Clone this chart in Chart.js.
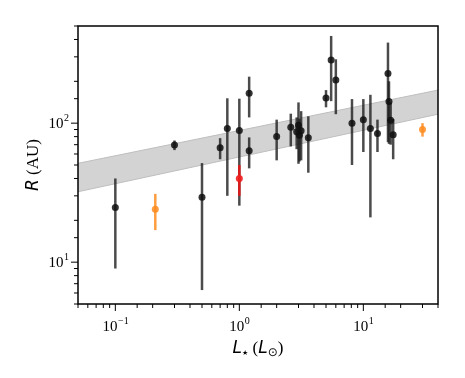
<!DOCTYPE html>
<html>
<head>
<meta charset="utf-8">
<script src="https://cdn.jsdelivr.net/npm/chart.js@4.4.0/dist/chart.umd.min.js"></script>
<style>
  html, body { margin: 0; padding: 0; background: #fff; }
  #wrap { width: 465px; height: 378px; }
</style>
</head>
<body>
<div id="wrap"><canvas id="c"></canvas></div>
<script>
// luminosity (L_sun) and radius (AU) with error ranges
const lum   = [0.1, 0.3, 0.5, 0.7, 0.8, 1.0, 1.2, 1.2, 2.0, 2.6, 2.9, 3.0, 3.05, 3.15, 3.6,
               5.0, 5.5, 6.0, 8.1, 10, 11.4, 13, 15.8, 16.1, 16.6, 17.4];
const rad   = [24.7, 69.5, 29.3, 66.5, 91.6, 88.7, 164, 63.2, 80.2, 93.6, 86.7, 96.7, 82, 88.1, 78.5,
               152, 285, 204, 100, 106, 91.6, 84.3, 228, 143, 105, 82.4];
const radLo = [9.0, 64, 6.3, 55, 30, 25.5, 110, 47.3, 54, 68, 65, 51, 53, 54, 44,
               130, 144, 116, 50, 62, 21, 62, 73, 71, 70, 55];
const radHi = [40, 75, 51.6, 78, 151, 150, 216, 79, 106, 117, 110, 141, 107, 122, 112,
               173, 424, 288, 149, 149, 160, 106, 380, 200, 141, 107];

const lumOrange   = [0.21, 30];
const radOrange   = [24, 90];
const radLoOrange = [17, 80];
const radHiOrange = [31, 100];

const lumRed   = [1.0];
const radRed   = [40];
const radLoRed = [30];
const radHiRed = [50];

// shaded relation band (edges at the axis limits)
const bandLum   = [0.05, 40];
const bandUpper = [51.4, 173];
const bandLower = [32.1, 116];

const xTicksMajor = [0.1, 1, 10];
const xTickLabels = ['10⁻¹', '10⁰', '10¹'];
const yTicksMajor = [10, 100];
const yTickLabels = ['10¹', '10²'];

function pts(xs, ys) {
  return xs.map((x, i) => ({ x: x, y: ys[i] }));
}

function isPow10(v) {
  const l = Math.log10(v);
  return Math.abs(l - Math.round(l)) < 1e-9;
}

const errorBars = {
  id: 'errorBars',
  beforeDatasetDraw(chart, args) {
    const ds = chart.data.datasets[args.index];
    if (!ds.errLo) return;
    const ctx = chart.ctx, x = chart.scales.x, y = chart.scales.y, a = chart.chartArea;
    ctx.save();
    ctx.beginPath();
    ctx.rect(a.left, a.top, a.right - a.left, a.bottom - a.top);
    ctx.clip();
    ctx.strokeStyle = ds.errColor;
    ctx.lineWidth = 2.5;
    ds.data.forEach((p, i) => {
      const px = x.getPixelForValue(p.x);
      ctx.beginPath();
      ctx.moveTo(px, y.getPixelForValue(ds.errLo[i]));
      ctx.lineTo(px, y.getPixelForValue(ds.errHi[i]));
      ctx.stroke();
    });
    ctx.restore();
  }
};

const frame = {
  id: 'frame',
  afterDraw(chart) {
    const ctx = chart.ctx, a = chart.chartArea, x = chart.scales.x, y = chart.scales.y;
    ctx.save();
    ctx.strokeStyle = '#000';
    ctx.lineWidth = 1.5;
    ctx.strokeRect(a.left, a.top, a.right - a.left, a.bottom - a.top);
    ctx.lineWidth = 1;
    x.ticks.forEach(t => {
      const px = x.getPixelForValue(t.value);
      if (px < a.left - 0.5 || px > a.right + 0.5) return;
      ctx.beginPath();
      ctx.moveTo(px, a.bottom);
      ctx.lineTo(px, a.bottom + (isPow10(t.value) ? 7 : 4));
      ctx.stroke();
    });
    y.ticks.forEach(t => {
      const py = y.getPixelForValue(t.value);
      if (py < a.top - 0.5 || py > a.bottom + 0.5) return;
      ctx.beginPath();
      ctx.moveTo(a.left, py);
      ctx.lineTo(a.left - (isPow10(t.value) ? 7 : 4), py);
      ctx.stroke();
    });

    // tick labels with raised exponents
    ctx.fillStyle = '#000';
    const base = '15px "Liberation Serif", "DejaVu Serif", serif';
    const sup = '10px "Liberation Serif", "DejaVu Serif", serif';
    function label(txt) {
      return { mant: '10', exp: txt.slice(2).replace('⁻', '−').replace('⁰', '0').replace('¹', '1').replace('²', '2') };
    }
    xTicksMajor.forEach((v, i) => {
      const l = label(xTickLabels[i]);
      ctx.font = base; const w1 = ctx.measureText(l.mant).width;
      ctx.font = sup; const w2 = ctx.measureText(l.exp).width;
      const px = x.getPixelForValue(v);
      const left = px - (w1 + w2) / 2;
      ctx.textBaseline = 'alphabetic';
      ctx.textAlign = 'left';
      ctx.font = base; ctx.fillText(l.mant, left, a.bottom + 27);
      ctx.font = sup; ctx.fillText(l.exp, left + w1 + 0.5, a.bottom + 20);
    });
    yTicksMajor.forEach((v, i) => {
      const l = label(yTickLabels[i]);
      ctx.font = base; const w1 = ctx.measureText(l.mant).width;
      ctx.font = sup; const w2 = ctx.measureText(l.exp).width;
      const py = y.getPixelForValue(v);
      const right = a.left - 9;
      ctx.textAlign = 'left';
      ctx.textBaseline = 'alphabetic';
      ctx.font = base; ctx.fillText(l.mant, right - w2 - w1 - 0.5, py + 5);
      ctx.font = sup; ctx.fillText(l.exp, right - w2, py - 2);
    });

    // axis titles
    function drawPieces(pieces, cx, by) {
      let w = 0;
      pieces.forEach(p => { ctx.font = p.f; p.w = ctx.measureText(p.t).width; w += p.w; });
      let cur = cx - w / 2;
      pieces.forEach(p => { ctx.font = p.f; ctx.fillText(p.t, cur, by + (p.dy || 0)); cur += p.w; });
    }
    const it = 'italic 17px "DejaVu Sans", sans-serif';
    const sr = '17px "Liberation Serif", "DejaVu Serif", serif';
    ctx.textAlign = 'left';
    ctx.textBaseline = 'alphabetic';
    drawPieces([
      { t: 'L', f: it },
      { t: '★', f: '7px "DejaVu Sans", sans-serif', dy: 2 },
      { t: ' (', f: sr },
      { t: 'L', f: it },
      { t: '⊙', f: '12px "DejaVu Sans", sans-serif', dy: 3 },
      { t: ')', f: sr }
    ], (a.left + a.right) / 2, 353);

    ctx.translate(38, (a.top + a.bottom) / 2);
    ctx.rotate(-Math.PI / 2);
    drawPieces([
      { t: 'R', f: it },
      { t: ' (AU)', f: sr }
    ], 0, 0);
    ctx.restore();
  }
};

const datos = {
  datasets: [
    {
      type: 'line',
      data: pts(bandLum, bandUpper),
      borderColor: '#bfbfbf',
      borderWidth: 1,
      pointRadius: 0,
      fill: false,
      order: 10
    },
    {
      type: 'line',
      data: pts(bandLum, bandLower),
      borderColor: '#bfbfbf',
      borderWidth: 1,
      backgroundColor: '#d3d3d3',
      pointRadius: 0,
      fill: '-1',
      order: 10
    },
    {
      data: pts(lum, rad),
      errLo: radLo,
      errHi: radHi,
      errColor: 'rgba(30,30,30,0.8)',
      backgroundColor: 'rgba(15,15,15,0.85)',
      borderWidth: 0,
      pointRadius: 3.5,
      order: 3
    },
    {
      data: pts(lumOrange, radOrange),
      errLo: radLoOrange,
      errHi: radHiOrange,
      errColor: 'rgba(255,140,30,0.85)',
      backgroundColor: 'rgba(255,140,30,0.85)',
      borderWidth: 0,
      pointRadius: 3.5,
      order: 2
    },
    {
      data: pts(lumRed, radRed),
      errLo: radLoRed,
      errHi: radHiRed,
      errColor: 'rgba(235,20,20,0.9)',
      backgroundColor: 'rgba(240,30,30,0.9)',
      borderWidth: 0,
      pointRadius: 3.5,
      order: 1
    }
  ]
};

const opciones = {
  responsive: true,
  maintainAspectRatio: false,
  animation: false,
  layout: { padding: { left: 0, right: 27, top: 26, bottom: 0 } },
  plugins: { legend: { display: false }, tooltip: { enabled: false } },
  scales: {
    x: {
      type: 'logarithmic',
      min: 0.05,
      max: 40,
      grid: { display: false, drawTicks: false },
      border: { display: false },
      ticks: { display: false, autoSkip: false },
      afterFit(s) { s.height = 74; }
    },
    y: {
      type: 'logarithmic',
      min: 5,
      max: 500,
      grid: { display: false, drawTicks: false },
      border: { display: false },
      ticks: { display: false, autoSkip: false },
      afterFit(s) { s.width = 78; }
    }
  }
};

new Chart(document.getElementById('c'), {
  type: 'scatter',
  data: datos,
  options: opciones,
  plugins: [errorBars, frame]
});
</script>
</body>
</html>
